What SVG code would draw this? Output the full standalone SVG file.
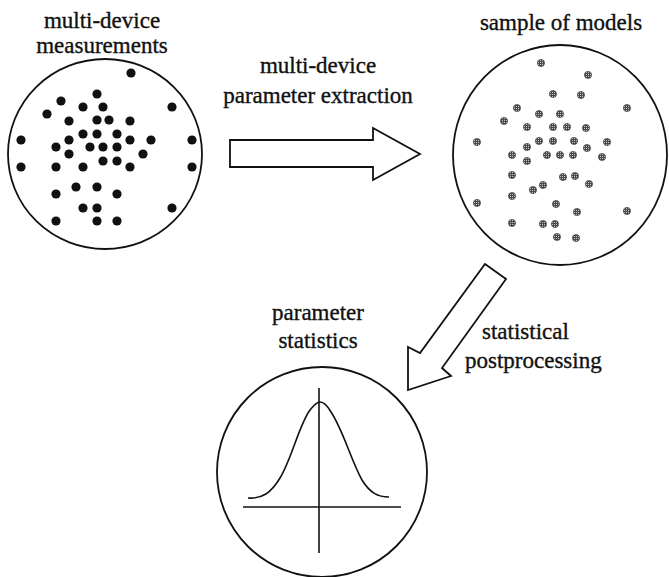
<svg xmlns="http://www.w3.org/2000/svg" width="669" height="577" viewBox="0 0 669 577">
<style>
text{font-family:'Liberation Serif','Times New Roman',serif;font-size:23px;fill:#111;stroke:#111;stroke-width:0.35}
.ring{fill:none;stroke:#111;stroke-width:1.8}
.d{fill:#111}
.g{fill:url(#speck);stroke:#444;stroke-width:0.7}
.arrow{fill:#fff;stroke:#111;stroke-width:1.8;stroke-linejoin:miter}
.ax{fill:none;stroke:#111;stroke-width:1.6}
</style>
<defs>
<pattern id="speck" width="2" height="2" patternUnits="userSpaceOnUse">
<rect width="2" height="2" fill="#4a4a4a"/>
<rect width="1" height="1" fill="#c8c8c8"/>
</pattern>
</defs>
<rect width="669" height="577" fill="#fff"/>

<g id="measurements">
<text x="102" y="28" text-anchor="middle" font-size="22">multi-device</text>
<text x="102" y="53" text-anchor="middle" font-size="22">measurements</text>
<ellipse class="ring" cx="105" cy="154" rx="97" ry="95"/>
<g class="d">
<circle cx="131" cy="73" r="4.6"/><circle cx="97" cy="94" r="4.6"/><circle cx="61" cy="101" r="4.6"/>
<circle cx="83" cy="107" r="4.6"/><circle cx="103" cy="107" r="4.6"/><circle cx="172" cy="107" r="4.6"/>
<circle cx="47" cy="114" r="4.6"/><circle cx="69" cy="121" r="4.6"/><circle cx="97" cy="120" r="4.6"/>
<circle cx="109" cy="120" r="4.6"/><circle cx="130" cy="121" r="4.6"/><circle cx="83" cy="134" r="4.6"/>
<circle cx="97" cy="134" r="4.6"/><circle cx="117" cy="134" r="4.6"/><circle cx="21" cy="140" r="4.6"/>
<circle cx="69" cy="140" r="4.6"/><circle cx="130" cy="140" r="4.6"/><circle cx="151" cy="140" r="4.6"/>
<circle cx="192" cy="140" r="4.6"/><circle cx="56" cy="147" r="4.6"/><circle cx="90" cy="147" r="4.6"/>
<circle cx="103" cy="147" r="4.6"/><circle cx="117" cy="147" r="4.6"/><circle cx="69" cy="154" r="4.6"/>
<circle cx="143" cy="154" r="4.6"/><circle cx="103" cy="161" r="4.6"/><circle cx="117" cy="161" r="4.6"/>
<circle cx="21" cy="167" r="4.6"/><circle cx="56" cy="167" r="4.6"/><circle cx="83" cy="167" r="4.6"/>
<circle cx="130" cy="167" r="4.6"/><circle cx="192" cy="167" r="4.6"/><circle cx="76" cy="187" r="4.6"/>
<circle cx="97" cy="187" r="4.6"/><circle cx="56" cy="194" r="4.6"/><circle cx="117" cy="194" r="4.6"/>
<circle cx="83" cy="208" r="4.6"/><circle cx="97" cy="208" r="4.6"/><circle cx="172" cy="208" r="4.6"/>
<circle cx="56" cy="221" r="4.6"/><circle cx="97" cy="221" r="4.6"/><circle cx="117" cy="221" r="4.6"/>
</g>
</g>

<g id="models">
<text x="561" y="30" text-anchor="middle">sample of  models</text>
<ellipse class="ring" cx="560" cy="155" rx="107" ry="110"/>
<g class="g">
<circle cx="541" cy="63" r="3.6"/><circle cx="588" cy="75" r="3.6"/><circle cx="553" cy="94" r="3.6"/>
<circle cx="581" cy="95" r="3.6"/><circle cx="517" cy="108" r="3.6"/><circle cx="627" cy="108" r="3.6"/>
<circle cx="539" cy="114" r="3.6"/><circle cx="560" cy="114" r="3.6"/><circle cx="504" cy="121" r="3.6"/>
<circle cx="527" cy="127" r="3.6"/><circle cx="553" cy="127" r="3.6"/><circle cx="567" cy="127" r="3.6"/>
<circle cx="586" cy="128" r="3.6"/><circle cx="477" cy="142" r="3.6"/><circle cx="539" cy="141" r="3.6"/>
<circle cx="553" cy="141" r="3.6"/><circle cx="574" cy="141" r="3.6"/><circle cx="607" cy="142" r="3.6"/>
<circle cx="527" cy="147" r="3.6"/><circle cx="587" cy="148" r="3.6"/><circle cx="512" cy="155" r="3.6"/>
<circle cx="547" cy="155" r="3.6"/><circle cx="560" cy="155" r="3.6"/><circle cx="573" cy="155" r="3.6"/>
<circle cx="602" cy="157" r="3.6"/><circle cx="527" cy="161" r="3.6"/><circle cx="512" cy="175" r="3.6"/>
<circle cx="563" cy="177" r="3.6"/><circle cx="575" cy="176" r="3.6"/><circle cx="589" cy="184" r="3.6"/>
<circle cx="543" cy="185" r="3.6"/><circle cx="533" cy="190" r="3.6"/><circle cx="512" cy="196" r="3.6"/>
<circle cx="477" cy="203" r="3.6"/><circle cx="556" cy="204" r="3.6"/><circle cx="577" cy="212" r="3.6"/>
<circle cx="627" cy="211" r="3.6"/><circle cx="512" cy="223" r="3.6"/><circle cx="543" cy="224" r="3.6"/>
<circle cx="555" cy="224" r="3.6"/><circle cx="557" cy="237" r="3.6"/><circle cx="576" cy="238" r="3.6"/>
</g>
</g>

<g id="statistics">
<text x="318" y="320" text-anchor="middle">parameter</text>
<text x="318" y="348" text-anchor="middle">statistics</text>
<circle class="ring" cx="322" cy="472" r="105"/>
<line class="ax" x1="319" y1="388" x2="319" y2="553"/>
<line class="ax" x1="243" y1="507" x2="401" y2="507"/>
<path class="ax" d="M248,498 C262,499 271,493 280,478 C292,458 299,425 310,410 C314,405 317,402 320,402 C323,402 327,405 331,412 C343,430 351,460 362,480 C370,493 378,497 389,497"/>
</g>

<g id="connectors">
<polygon class="arrow" points="230,140 373,140 373,128 420,154 373,180 373,167 230,167"/>
<text x="318" y="73" text-anchor="middle">multi-device</text>
<text x="318" y="103" text-anchor="middle">parameter extraction</text>
<polygon class="arrow" points="485,264 506,279 442,368 451,376 408,390 408,347 420,353"/>
<text x="482" y="339">statistical</text>
<text x="465" y="368">postprocessing</text>
</g>
</svg>
